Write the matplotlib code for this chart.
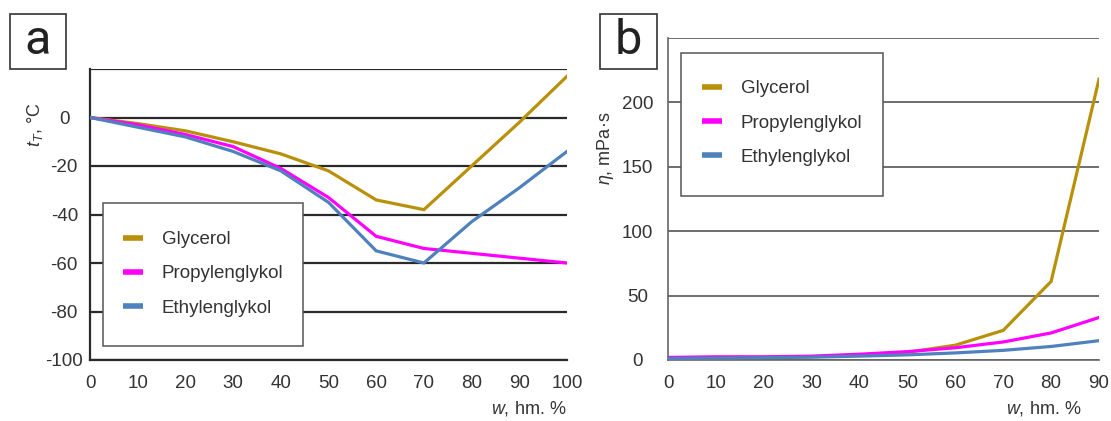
import matplotlib
matplotlib.use("Agg")
import matplotlib.pyplot as plt
from matplotlib.patches import Rectangle

# ---------------- data ----------------
w_a = [0, 10, 20, 30, 40, 50, 60, 70, 80, 90, 100]
glycerol_t = [0, -2.5, -5.5, -10, -15, -22, -34, -38, -20, -2, 17]
propylen_t = [0, -3, -7, -12, -21, -33, -49, -54, -56, -58, -60]
ethylen_t = [0, -4, -8, -14, -22, -35, -55, -60, -43, -29, -14]

w_b = [0, 10, 20, 30, 40, 50, 60, 70, 80, 90]
glycerol_eta = [1.5, 1.8, 2.0, 2.5, 4.0, 6.0, 11.5, 23, 61, 218]
propylen_eta = [2.0, 2.5, 2.5, 3.0, 4.5, 6.5, 9.5, 14, 21, 33]
ethylen_eta = [1.2, 1.5, 1.8, 2.2, 3.0, 4.0, 5.5, 7.5, 10.5, 15]

series_names = ["Glycerol", "Propylenglykol", "Ethylenglykol"]
colors = ["#B8900A", "#FF00FF", "#4F81BD"]

xticks_a = [0, 10, 20, 30, 40, 50, 60, 70, 80, 90, 100]
yticks_a = [-100, -80, -60, -40, -20, 0, 20]
ylabels_a = ["-100", "-80", "-60", "-40", "-20", "0", ""]
xticks_b = [0, 10, 20, 30, 40, 50, 60, 70, 80, 90]
yticks_b = [0, 50, 100, 150, 200, 250]
ylabels_b = ["0", "50", "100", "150", "200", ""]

# ---------------- style ----------------
plt.rcParams["font.family"] = ["Liberation Sans", "DejaVu Sans"]
plt.rcParams["mathtext.fontset"] = "custom"
plt.rcParams["mathtext.rm"] = "Liberation Sans"
plt.rcParams["mathtext.it"] = "Liberation Sans:italic"
plt.rcParams["mathtext.bf"] = "Liberation Sans:bold"
TXT = "#333333"
FS = 13.5

W, H = 1111, 421
fig = plt.figure(figsize=(W / 100, H / 100), dpi=100)


def fx(px):
    return px / W


def fy(py):
    return 1 - py / H


ax_a = fig.add_axes([fx(90), fy(360), fx(567) - fx(90), fy(69) - fy(360)])
ax_b = fig.add_axes([fx(668), fy(360), fx(1099) - fx(668), fy(38) - fy(360)])

# panel a
for y, name, c in zip([glycerol_t, propylen_t, ethylen_t], series_names, colors):
    ax_a.plot(w_a, y, color=c, lw=2.3, label=name, zorder=4, solid_joinstyle="miter")
ax_a.set_xlim(0, 100)
ax_a.set_ylim(-100, 20)
ax_a.set_xticks(xticks_a)
ax_a.set_yticks(yticks_a, ylabels_a)
ax_a.yaxis.grid(True, color="#2a2a2a", lw=1.6)
ax_a.set_axisbelow(True)
for s in ["top", "right"]:
    ax_a.spines[s].set_visible(False)
for s in ["left", "bottom"]:
    ax_a.spines[s].set_color("#2a2a2a")
    ax_a.spines[s].set_linewidth(1.6)
ax_a.tick_params(axis="both", length=0, labelsize=FS, colors=TXT)
ax_a.tick_params(axis="y", pad=18.5)
ax_a.tick_params(axis="x", pad=11)
for lbl in ax_a.get_yticklabels():
    lbl.set_ha("center")

# panel b
for y, name, c in zip([glycerol_eta, propylen_eta, ethylen_eta], series_names, colors):
    ax_b.plot(w_b, y, color=c, lw=2.3, label=name, zorder=4, solid_joinstyle="miter")
ax_b.set_xlim(0, 90)
ax_b.set_ylim(0, 250)
ax_b.set_xticks(xticks_b)
ax_b.set_yticks(yticks_b, ylabels_b)
ax_b.yaxis.grid(True, color="#555555", lw=1.2)
ax_b.set_axisbelow(True)
for s in ["top", "right"]:
    ax_b.spines[s].set_visible(False)
for s in ["left", "bottom"]:
    ax_b.spines[s].set_color("#666666")
    ax_b.spines[s].set_linewidth(1.2)
ax_b.tick_params(axis="both", length=0, labelsize=FS, colors=TXT)
ax_b.tick_params(axis="y", pad=22)
ax_b.tick_params(axis="x", pad=11)
for lbl in ax_b.get_yticklabels():
    lbl.set_ha("center")

# legends with manual frames
def legend_box(ax, x0, y0, x1, y1, hx, ty):
    rect = Rectangle((fx(x0), fy(y1)), fx(x1) - fx(x0), fy(y0) - fy(y1),
                     transform=fig.transFigure, facecolor="white",
                     edgecolor="#555555", lw=1.1, zorder=3, clip_on=False)
    ax.add_patch(rect)
    leg = ax.legend(loc="upper left", bbox_to_anchor=(fx(hx), fy(ty)),
                    bbox_transform=fig.transFigure, frameon=False,
                    borderpad=0, borderaxespad=0, fontsize=FS,
                    handlelength=1.07, handletextpad=1.0, labelspacing=0.92)
    leg.set_zorder(5)
    for t in leg.get_texts():
        t.set_color(TXT)
    for l in leg.get_lines():
        l.set_linewidth(4)
        l.set_solid_capstyle("butt")


legend_box(ax_a, 103, 203, 303, 346, 123, 231)
legend_box(ax_b, 681, 53, 883, 196, 702, 80)

# axis labels
fig.text(fx(35), fy(125), r"$t_T$, °C", rotation=90, ha="center", va="center",
         fontsize=13, color=TXT)
fig.text(fx(605), fy(148), r"$\eta$, mPa·s", rotation=90, ha="center", va="center",
         fontsize=13, color=TXT)
fig.text(fx(566), fy(409), r"$w$, hm. %", ha="right", va="center", fontsize=13, color=TXT)
fig.text(fx(1081), fy(409), r"$w$, hm. %", ha="right", va="center", fontsize=13, color=TXT)

# panel letters
for lab, x0, x1 in [("a", 10, 66), ("b", 600, 657)]:
    rect = Rectangle((fx(x0), fy(69)), fx(x1) - fx(x0), fy(14) - fy(69),
                     transform=fig.transFigure, facecolor="white",
                     edgecolor="#333333", lw=1.2)
    fig.patches.append(rect)
    fig.text(fx((x0 + x1) / 2), fy(41.5), lab, ha="center", va="center",
             fontsize=35, color="#222222", family=["Roboto", "DejaVu Sans"])

fig.savefig("out.png", dpi=100)
